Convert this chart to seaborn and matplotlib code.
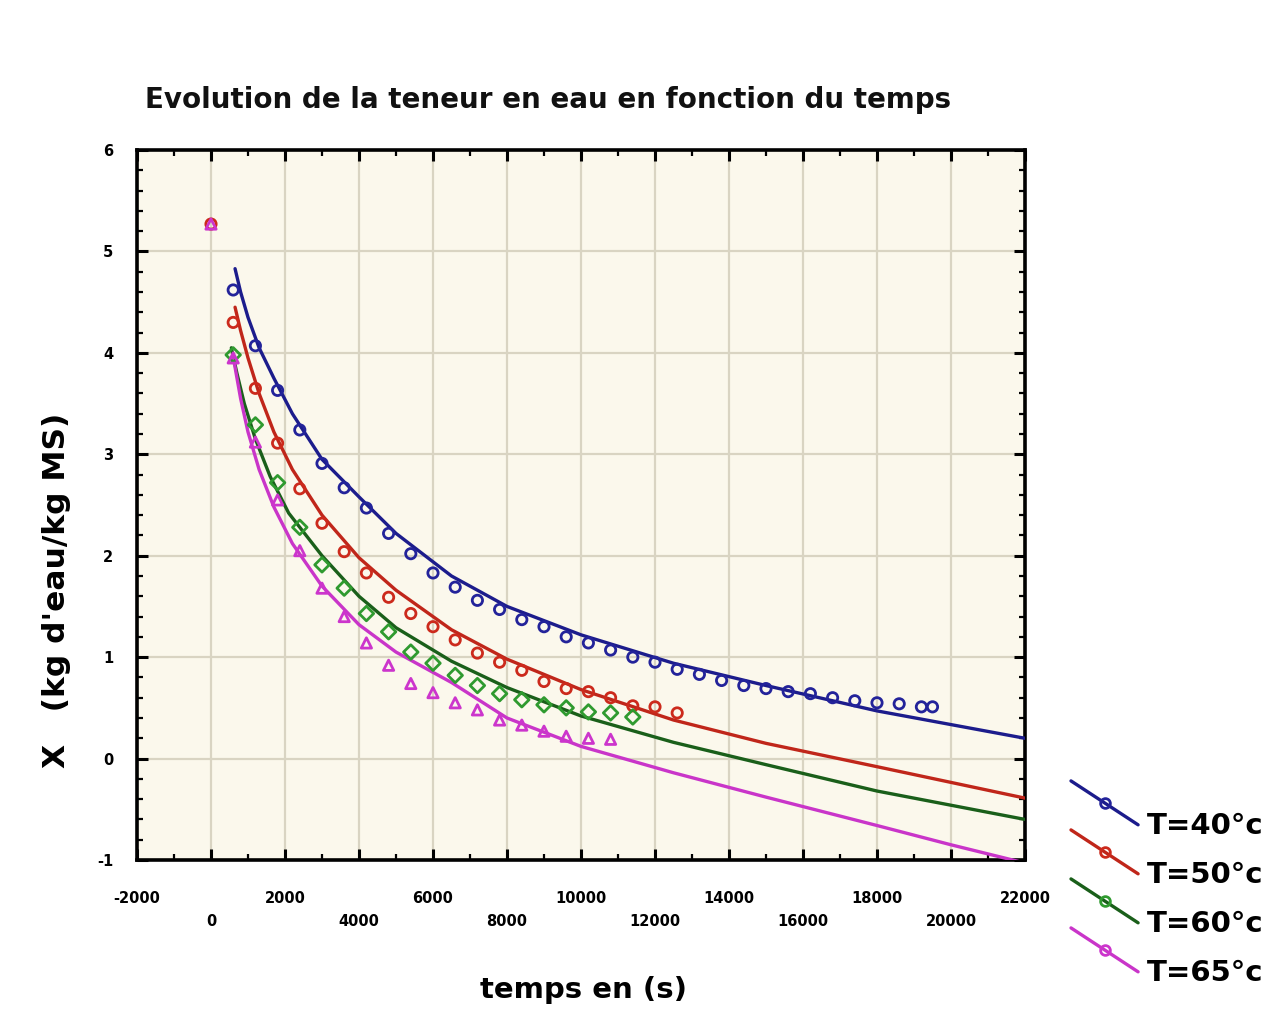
import numpy as np
import pandas as pd
import matplotlib
matplotlib.use("Agg")
import matplotlib.pyplot as plt
import seaborn as sns
from matplotlib.lines import Line2D
from matplotlib.legend_handler import HandlerLine2D
from matplotlib.ticker import MultipleLocator

# ---------------- data ----------------
t40 = [600, 1200, 1800, 2400, 3000, 3600, 4200, 4800, 5400, 6000, 6600, 7200,
       7800, 8400, 9000, 9600, 10200, 10800, 11400, 12000, 12600, 13200, 13800,
       14400, 15000, 15600, 16200, 16800, 17400, 18000, 18600, 19200, 19500]
x40 = [4.62, 4.07, 3.63, 3.24, 2.91, 2.67, 2.47, 2.22, 2.02, 1.83, 1.69, 1.56,
       1.47, 1.37, 1.30, 1.20, 1.14, 1.07, 1.00, 0.95, 0.88, 0.83, 0.77,
       0.72, 0.69, 0.66, 0.64, 0.60, 0.57, 0.55, 0.54, 0.51, 0.51]

t50 = [0, 600, 1200, 1800, 2400, 3000, 3600, 4200, 4800, 5400, 6000, 6600,
       7200, 7800, 8400, 9000, 9600, 10200, 10800, 11400, 12000, 12600]
x50 = [5.27, 4.30, 3.65, 3.11, 2.66, 2.32, 2.04, 1.83, 1.59, 1.43, 1.30, 1.17,
       1.04, 0.95, 0.87, 0.76, 0.69, 0.66, 0.60, 0.52, 0.51, 0.45]

t60 = [600, 1200, 1800, 2400, 3000, 3600, 4200, 4800, 5400, 6000, 6600, 7200,
       7800, 8400, 9000, 9600, 10200, 10800, 11400]
x60 = [3.98, 3.29, 2.72, 2.28, 1.91, 1.68, 1.43, 1.25, 1.05, 0.94, 0.82, 0.72,
       0.64, 0.58, 0.53, 0.50, 0.46, 0.45, 0.41]

t65 = [0, 600, 1200, 1800, 2400, 3000, 3600, 4200, 4800, 5400, 6000, 6600,
       7200, 7800, 8400, 9000, 9600, 10200, 10800]
x65 = [5.27, 3.95, 3.12, 2.55, 2.05, 1.68, 1.40, 1.14, 0.92, 0.74, 0.65, 0.55,
       0.48, 0.38, 0.33, 0.27, 0.22, 0.20, 0.19]

# fitted curves
tfit40 = [650, 800, 1000, 1300, 1700, 2200, 3000, 4000, 5000, 6500, 8000,
          10000, 12500, 15000, 18000, 22000]
xfit40 = [4.83, 4.60, 4.35, 4.05, 3.75, 3.40, 2.95, 2.58, 2.22, 1.80, 1.50,
          1.22, 0.94, 0.72, 0.47, 0.20]

tfit50 = [650, 800, 1000, 1300, 1700, 2200, 3000, 4000, 5000, 6500, 8000,
          10000, 12500, 15000, 18000, 22000]
xfit50 = [4.45, 4.22, 3.95, 3.60, 3.22, 2.85, 2.40, 1.98, 1.66, 1.27, 0.98,
          0.68, 0.38, 0.15, -0.08, -0.39]

tfit60 = [550, 700, 900, 1200, 1600, 2100, 3000, 4000, 5000, 6500, 8000,
          10000, 12500, 15000, 18000, 22000]
xfit60 = [4.05, 3.80, 3.50, 3.15, 2.78, 2.42, 2.00, 1.60, 1.29, 0.96, 0.70,
          0.42, 0.16, -0.06, -0.32, -0.60]

tfit65 = [600, 800, 1000, 1300, 1700, 2200, 3000, 4000, 5000, 6500, 8000,
          10000, 12500, 15000, 18000, 20000, 22000]
xfit65 = [3.96, 3.55, 3.22, 2.85, 2.48, 2.12, 1.70, 1.32, 1.05, 0.75, 0.40,
          0.12, -0.14, -0.38, -0.66, -0.85, -1.03]

labels = ["T=40°c", "T=50°c", "T=60°c", "T=65°c"]
xticks = [-2000, 0, 2000, 4000, 6000, 8000, 10000, 12000, 14000, 16000,
          18000, 20000, 22000]
yticks = [-1, 0, 1, 2, 3, 4, 5, 6]

# ---------------- styling ----------------
sns.set_theme(style="ticks")
plt.rcParams["font.family"] = ["DejaVu Sans"]
plt.rcParams["text.color"] = "black"
plt.rcParams["axes.labelcolor"] = "black"
plt.rcParams["xtick.color"] = "black"
plt.rcParams["ytick.color"] = "black"

marker_cols = ["#23239a", "#cc2a1c", "#2f9a2f", "#cc35cc"]
line_cols = ["#1c1c8c", "#c0261a", "#1a5f1a", "#c935c9"]
markers = ["o", "o", "D", "^"]

pts = pd.concat([
    pd.DataFrame({"t": t, "X": x, "serie": lab})
    for t, x, lab in zip([t40, t50, t60, t65], [x40, x50, x60, x65], labels)
], ignore_index=True)
fits = pd.concat([
    pd.DataFrame({"t": t, "X": x, "serie": lab})
    for t, x, lab in zip([tfit40, tfit50, tfit60, tfit65],
                         [xfit40, xfit50, xfit60, xfit65], labels)
], ignore_index=True)

fig = plt.figure(figsize=(12.84, 10.34), dpi=100)
fig.patch.set_facecolor("white")
ax = fig.add_axes([137 / 1284, 1 - 860 / 1034, 888 / 1284, 710 / 1034])
ax.set_facecolor("#fbf8ec")

for i, lab in enumerate(labels):
    sub = fits[fits["serie"] == lab]
    sns.lineplot(data=sub, x="t", y="X", ax=ax, color=line_cols[i], lw=2.4,
                 sort=True, estimator=None, zorder=3, legend=False)
for i, lab in enumerate(labels):
    sub = pts[pts["serie"] == lab]
    sns.scatterplot(data=sub, x="t", y="X", ax=ax, marker=markers[i], s=55,
                    facecolor="none", edgecolor=marker_cols[i], linewidth=2.0,
                    zorder=4, legend=False)

ax.set_xlim(-2000, 22000)
ax.set_ylim(-1, 6)
ax.set_xticks(xticks)
ax.set_yticks(yticks)
ax.xaxis.set_minor_locator(MultipleLocator(1000))
ax.yaxis.set_minor_locator(MultipleLocator(0.2))
ax.grid(True, which="major", color="#d9d4c2", lw=1.6)
ax.set_axisbelow(True)
for sp in ax.spines.values():
    sp.set_color("black")
    sp.set_linewidth(2.6)
    sp.set_visible(True)
ax.tick_params(which="major", direction="in", length=8, width=2.2,
               top=True, right=True, colors="black")
ax.tick_params(which="minor", direction="in", length=4, width=1.6,
               top=True, right=True, colors="black")
ax.tick_params(axis="y", which="major", pad=17, labelsize=10.5)
ax.tick_params(axis="x", which="major", pad=22, labelsize=10.5)

xl = []
for i, v in enumerate(xticks):
    s = str(v)
    xl.append(s if i % 2 == 0 else "\n" + s)
ax.set_xticklabels(xl, fontweight="bold")
for lab in ax.get_xticklabels():
    lab.set_linespacing(1.7)
ax.set_yticklabels([str(v) for v in yticks], fontweight="bold")

ax.set_xlabel("temps en (s)", fontsize=21, fontweight="bold", va="center")
ax.xaxis.set_label_coords((583 - 137) / 888, (860 - 990) / 710)
ax.set_ylabel("X   (kg d'eau/kg MS)", fontsize=22.5, fontweight="bold",
              va="center")
ax.yaxis.set_label_coords((57 - 137) / 888, (860 - 590) / 710)

fig.text(145 / 1284, 1 - 100 / 1034,
         "Evolution de la teneur en eau en fonction du temps",
         fontsize=20, fontweight="bold", ha="left", va="center",
         color="#111111")


class DiagHandler(HandlerLine2D):
    def create_artists(self, legend, orig_handle, xdescent, ydescent,
                       width, height, fontsize, trans):
        x0 = -xdescent
        x1 = -xdescent + width
        y0 = -ydescent + height * 2.6
        y1 = -ydescent + height * 0.45
        line = Line2D([x0, x1], [y0, y1], color=orig_handle.get_color(),
                      lw=orig_handle.get_linewidth())
        mk = Line2D([(x0 + x1) / 2], [(y0 + y1) / 2], marker="o",
                    markersize=orig_handle.get_markersize(),
                    markerfacecolor="none",
                    markeredgecolor=orig_handle.get_markeredgecolor(),
                    markeredgewidth=2.0, linestyle="none")
        line.set_transform(trans)
        mk.set_transform(trans)
        return [line, mk]


handles = [Line2D([], [], color=line_cols[i], lw=2.4, marker="o",
                  markersize=7, markerfacecolor="none",
                  markeredgecolor=marker_cols[i]) for i in range(4)]
fig.legend(handles, labels, loc="upper left",
           bbox_to_anchor=(1071 / 1284, 1 - 812 / 1034),
           frameon=False, handlelength=2.3, handletextpad=0.3,
           labelspacing=0.72, borderaxespad=0, borderpad=0,
           handler_map={Line2D: DiagHandler()},
           prop={"weight": "bold", "size": 21})

fig.savefig("out.png", dpi=100, facecolor="white")
